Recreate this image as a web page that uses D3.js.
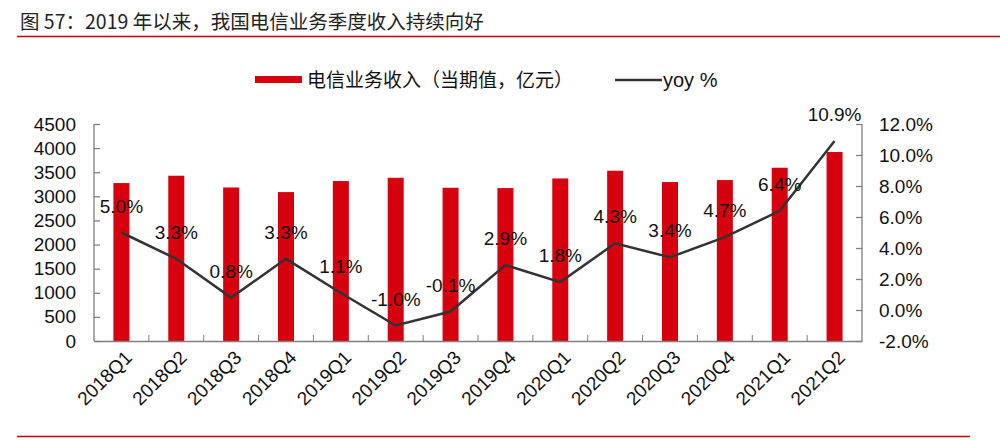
<!DOCTYPE html>
<html><head><meta charset="utf-8">
<script src="https://cdn.jsdelivr.net/npm/d3@7/dist/d3.min.js"></script>
<style>body{margin:0;background:#fff}svg{display:block}text{font-family:"Liberation Sans","Noto Sans CJK SC",Arial,sans-serif}</style>
</head><body><svg id="c" width="1000" height="441"></svg>
<script>
const categories = ["2018Q1","2018Q2","2018Q3","2018Q4","2019Q1","2019Q2","2019Q3","2019Q4","2020Q1","2020Q2","2020Q3","2020Q4","2021Q1","2021Q2"];
const revenue = [3275,3427,3184,3088,3317,3385,3178,3171,3371,3531,3296,3337,3593,3919];
const yoy = [5.0,3.3,0.8,3.3,1.1,-1.0,-0.1,2.9,1.8,4.3,3.4,4.7,6.4,10.9];
const leftTicks = [0,500,1000,1500,2000,2500,3000,3500,4000,4500];
const rightTicks = [-2,0,2,4,6,8,10,12];
const title = "图 57：2019 年以来，我国电信业务季度收入持续向好";
const legendBar = "电信业务收入（当期值，亿元）";
const legendLine = "yoy %";

const svg = d3.select("#c");
const L = 94, R = 862, T = 124, B = 341;
const x = d3.scaleBand().domain(categories).range([L, R]);
const yL = d3.scaleLinear().domain([0, 4500]).range([B, T]);
const yR = d3.scaleLinear().domain([-2, 12]).range([B, T]);
const red = "#d7000f", axisCol = "#808080";
const cjk = "'Noto Sans CJK SC','Liberation Sans',sans-serif";

// title
svg.append("text").attr("x", 20).attr("y", 29).attr("font-size", 19.5).attr("fill", "#222")
  .style("font-family", cjk).text(title);
svg.append("line").attr("x1", 17).attr("x2", 1000).attr("y1", 36.5).attr("y2", 36.5).attr("stroke", "#c00000").attr("stroke-width", 1.5);
svg.append("line").attr("x1", 17).attr("x2", 970).attr("y1", 436.5).attr("y2", 436.5).attr("stroke", "#c00000").attr("stroke-width", 1.5);

// legend
svg.append("rect").attr("x", 255).attr("y", 76).attr("width", 47).attr("height", 7).attr("fill", red);
svg.append("text").attr("x", 307).attr("y", 87).attr("font-size", 19).attr("fill", "#111")
  .style("font-family", cjk).text(legendBar);
svg.append("line").attr("x1", 615).attr("x2", 662).attr("y1", 80).attr("y2", 80).attr("stroke", "#333").attr("stroke-width", 2.5);
svg.append("text").attr("x", 663).attr("y", 87).attr("font-size", 20).attr("fill", "#111").text(legendLine);

// bars
const bw = 16;
svg.append("g").selectAll("rect").data(revenue).join("rect")
  .attr("x", (d, i) => x(categories[i]) + x.bandwidth() / 2 - bw / 2)
  .attr("width", bw)
  .attr("y", d => yL(d)).attr("height", d => B - yL(d))
  .attr("fill", red);

// axes
const gL = svg.append("g").attr("transform", `translate(${L},0)`)
  .call(d3.axisLeft(yL).tickValues(leftTicks).tickSizeInner(-6).tickSizeOuter(-6).tickPadding(18).tickFormat(d3.format("d")));
const gR = svg.append("g").attr("transform", `translate(${R},0)`)
  .call(d3.axisRight(yR).tickValues(rightTicks).tickSizeInner(-6).tickSizeOuter(-6).tickPadding(17).tickFormat(d => d.toFixed(1) + "%"));
const gB = svg.append("g").attr("transform", `translate(0,${B})`)
  .call(d3.axisBottom(x).tickSize(0).tickSizeOuter(0).tickFormat(""));
// category boundary ticks (inward)
svg.append("g").selectAll("line").data(categories.slice(1)).join("line")
  .attr("x1", d => x(d)).attr("x2", d => x(d)).attr("y1", B).attr("y2", B - 6)
  .attr("stroke", axisCol);
[gL, gR, gB].forEach(g => {
  g.selectAll("path,line").attr("stroke", axisCol).attr("stroke-width", 1.3);
  g.selectAll("text").attr("font-size", 19).attr("fill", "#111").style("font-family", "'Liberation Sans',Arial,sans-serif");
});
gL.select("path.domain").attr("d", `M0,${T}V${B}`);
gR.select("path.domain").attr("d", `M0,${T}V${B}`);

// x labels
svg.append("g").selectAll("text").data(categories).join("text")
  .attr("transform", d => `translate(${x(d) + x.bandwidth() / 2 + 7},${B + 13}) rotate(-45)`)
  .attr("text-anchor", "end").attr("dy", "0.35em").attr("font-size", 19).attr("fill", "#111").text(d => d);

// line
const px = (i) => x(categories[i]) + x.bandwidth() / 2;
svg.append("path").datum(yoy)
  .attr("d", d3.line().x((d, i) => px(i)).y(d => yR(d)))
  .attr("fill", "none").attr("stroke", "#333").attr("stroke-width", 2.5);
svg.append("g").selectAll("text").data(yoy).join("text")
  .attr("x", (d, i) => px(i)).attr("y", d => yR(d) - 20)
  .attr("text-anchor", "middle").attr("font-size", 19).attr("fill", "#111")
  .text(d => d.toFixed(1) + "%");
</script></body></html>
